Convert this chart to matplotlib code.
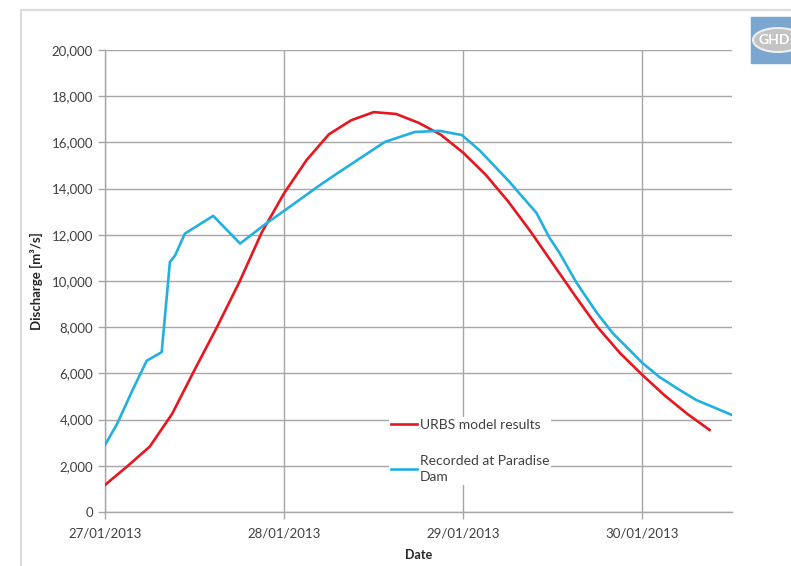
import pandas as pd
import matplotlib.pyplot as plt
import matplotlib.dates as mdates
from matplotlib.patches import Rectangle, Ellipse
from matplotlib.ticker import FuncFormatter, MultipleLocator

plt.rcParams['font.family'] = ['Lato', 'DejaVu Sans']

start = pd.Timestamp('2013-01-27 00:00')

# URBS model output (hours after 27/01/2013 00:00, m3/s)
urbs_hours = [0, 3, 6, 9, 12, 15, 18, 21, 24, 27, 30, 33, 36, 39, 42, 45, 48,
              51, 54, 57, 60, 63, 66, 69, 72, 75, 78, 81]
urbs_flow = [1170, 1980, 2830, 4250, 6150, 8000, 9950, 12100, 13800, 15230,
             16350, 16960, 17310, 17230, 16850, 16330, 15550, 14600, 13450,
             12150, 10750, 9350, 8000, 6880, 5930, 5040, 4250, 3550]

# recorded discharge at Paradise Dam
dam_hours = [0, 1.6, 3.7, 5.6, 7.6, 8.7, 9.4, 10.7, 14.5, 18.1, 21.6, 24.1,
             28.8, 31.4, 37.5, 41.5, 44.8, 47.8, 50.2, 54.2, 55.5, 57.8, 59.5,
             60.9, 63.2, 65.9, 68.0, 70.3, 72.0, 74.3, 77.0, 79.2, 84.0]
dam_flow = [2900, 3800, 5280, 6550, 6920, 10820, 11110, 12050, 12820, 11620,
            12490, 13060, 14150, 14720, 16020, 16450, 16500, 16320, 15650,
            14290, 13800, 12950, 11900, 11210, 9910, 8620, 7750, 7010, 6450,
            5840, 5280, 4850, 4200]

urbs_t = start + pd.to_timedelta(urbs_hours, unit='h')
dam_t = start + pd.to_timedelta(dam_hours, unit='h')

fig = plt.figure(figsize=(7.91, 5.66), dpi=100)
ax = fig.add_axes([0.1327, 0.0954, 0.7927, 0.8163])

ax.plot(urbs_t, urbs_flow, color='#e8161e', lw=1.9, label='URBS model results', zorder=3)
ax.plot(dam_t, dam_flow, color='#22b0e0', lw=1.9, label='Recorded at Paradise\nDam', zorder=3)

ax.set_ylim(0, 20000)
ax.set_xlim(start, start + pd.Timedelta(hours=84))
ax.yaxis.set_major_locator(MultipleLocator(2000))
ax.yaxis.set_major_formatter(FuncFormatter(lambda v, p: f'{v:,.0f}'))
ax.xaxis.set_major_locator(mdates.DayLocator())
ax.xaxis.set_major_formatter(mdates.DateFormatter('%d/%m/%Y'))

ax.grid(True, color='#a6a6a6', lw=1.0)
ax.set_axisbelow(True)
for s in ['top', 'right']:
    ax.spines[s].set_visible(False)
for s in ['left', 'bottom']:
    ax.spines[s].set_color('#a6a6a6')
    ax.spines[s].set_linewidth(1.0)
ax.tick_params(axis='both', colors='#a6a6a6', labelcolor='#404040',
               labelsize=9.5, length=5, width=1.0)
ax.tick_params(axis='x', pad=6)

ax.set_ylabel('Discharge [m³/s]', fontsize=9.5, fontweight='bold', color='#262626', labelpad=6)
ax.set_xlabel('Date', fontsize=9, fontweight='bold', color='#262626', labelpad=7)

leg = ax.legend(loc='upper left', bbox_to_anchor=(382 / 791, 1 - 410 / 566),
                bbox_transform=fig.transFigure, frameon=True, fancybox=False,
                edgecolor='none', facecolor='white', framealpha=1,
                fontsize=10, handlelength=1.9, handletextpad=0.15,
                labelspacing=1.7, borderpad=0.15, labelcolor='#404040')
leg.set_zorder(5)
leg.get_texts()[1].set_linespacing(1.45)

# outer chart frame
fig.patches.append(Rectangle((21 / 791, -0.1), 1.2, 1 - 10 / 566 + 0.1,
                             transform=fig.transFigure, fill=False,
                             edgecolor='#dcdcdc', lw=1.6))

# GHD logo badge
fig.patches.append(Rectangle((751 / 791, 1 - 63 / 566), 40 / 791, 46 / 566,
                             transform=fig.transFigure, color='#7aa6cf'))
fig.patches.append(Ellipse((778 / 791, 1 - 40 / 566), 50 / 791, 24 / 566,
                           transform=fig.transFigure, facecolor='#c4c4c4',
                           edgecolor='#eeeeee', lw=1.5))
fig.text(774 / 791, 1 - 40 / 566, 'GHD', color='white', fontsize=10,
         fontweight='bold', ha='center', va='center')

fig.savefig('out.png', dpi=100)
